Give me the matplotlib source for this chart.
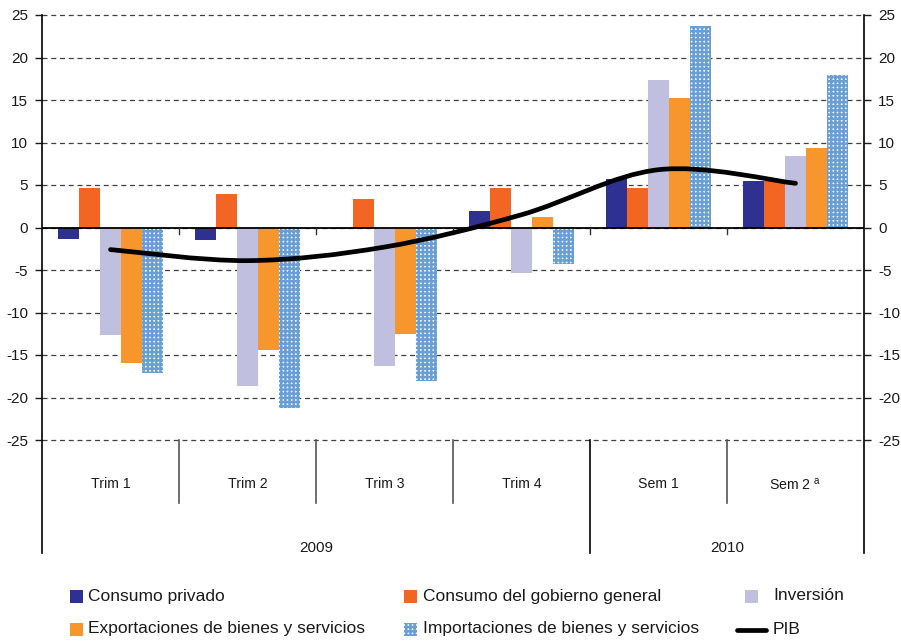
import numpy as np
import matplotlib
matplotlib.use('Agg')
from matplotlib import pyplot as plt
from matplotlib.path import Path
from matplotlib.patches import PathPatch, Rectangle
from matplotlib.lines import Line2D

plt.rcParams['font.family'] = ['Liberation Sans', 'DejaVu Sans']
plt.rcParams['mathtext.fontset'] = 'custom'
plt.rcParams['mathtext.rm'] = 'Liberation Sans'
plt.rcParams['axes.unicode_minus'] = False
plt.rcParams['hatch.linewidth'] = 1.8

# data
periods = ['Trim 1', 'Trim 2', 'Trim 3', 'Trim 4', 'Sem 1', r'Sem 2 $^{\mathrm{a}}$']
years = ['2009', '2010']
year_spans = [(0, 4), (4, 6)]
series_names = ['Consumo privado', 'Consumo del gobierno general', 'Inversión',
                'Exportaciones de bienes y servicios',
                'Importaciones de bienes y servicios']
consumo_privado = [-1.4, -1.5, -0.2, 2.0, 5.7, 5.5]
consumo_gobierno = [4.6, 3.9, 3.3, 4.7, 4.7, 5.5]
inversion = [-12.7, -18.7, -16.3, -5.4, 17.4, 8.4]
exportaciones = [-15.9, -14.4, -12.5, 1.2, 15.2, 9.4]
importaciones = [-17.1, -21.2, -18.1, -4.3, 23.7, 17.9]
pib = [-2.6, -3.9, -2.3, 1.5, 6.8, 5.2]
pib_name = 'PIB'

colors = ['#2e3192', '#f26522', '#c0bfdf', '#f7962d', '#6a9fd6']

fig = plt.figure(figsize=(9.01, 6.41), dpi=100)
ax = fig.add_axes([42 / 901, 1 - 440 / 641, (864 - 42) / 901, 425 / 641])

x = np.arange(len(periods))
w = 0.153
all_series = [consumo_privado, consumo_gobierno, inversion, exportaciones, importaciones]
for i, vals in enumerate(all_series):
    if i == 4:
        # blue grid with white dots
        ax.bar(x + (i - 2) * w, vals, w, color='white', edgecolor=colors[i],
               hatch='++++', linewidth=0, zorder=2)
    else:
        ax.bar(x + (i - 2) * w, vals, w, color=colors[i], linewidth=0, zorder=2)


def smooth_path(xs, ys):
    # catmull-rom -> cubic bezier
    pts = np.column_stack([xs, ys]).astype(float)
    ext = np.vstack([pts[0], pts, pts[-1]])
    verts = [pts[0]]
    codes = [Path.MOVETO]
    for k in range(len(pts) - 1):
        p0, p1, p2, p3 = ext[k], ext[k + 1], ext[k + 2], ext[k + 3]
        verts += [p1 + (p2 - p0) / 6, p2 - (p3 - p1) / 6, p2]
        codes += [Path.CURVE4] * 3
    return Path(verts, codes)


ax.add_patch(PathPatch(smooth_path(x, pib), facecolor='none', edgecolor='black',
                       linewidth=3.4, capstyle='round', zorder=4))

ax.set_xlim(-0.5, len(periods) - 0.5)
ax.set_ylim(-25, 25)
ax.set_yticks(np.arange(-25, 26, 5))
ax.yaxis.grid(True, linestyle=(0, (4, 3)), color='#404040', linewidth=0.9)
for gl in ax.get_ygridlines():
    gl.set_clip_on(False)
ax.set_axisbelow(True)
ax.axhline(0, color='black', linewidth=1.3, zorder=3)
ax.set_xticks([])
for s in ax.spines.values():
    s.set_visible(False)
ax.tick_params(axis='y', left=True, right=True, labelleft=True, labelright=True,
               direction='out', length=5, width=1, labelsize=11, pad=5,
               colors='#1a1a1a')

# small ticks on zero line
for b in np.arange(0.5, len(periods) - 0.5, 1):
    ax.plot([b, b], [0, -0.8], color='#333333', linewidth=1, zorder=3)

# category area below plot
y_short = -32.4
y_long = -38.3
for b in [0.5, 1.5, 2.5, 4.5]:
    ax.plot([b, b], [-25, y_short], color='#555555', linewidth=1.2, clip_on=False)
ax.plot([3.5, 3.5], [-25, y_long], color='black', linewidth=1.2, clip_on=False)
for b in [-0.5, 5.5]:
    ax.plot([b, b], [25, y_long], color='black', linewidth=1.2, clip_on=False)
for xi, lab in zip(x, periods):
    ax.text(xi, -30.2, lab, ha='center', va='center', fontsize=10.2,
            color='#1a1a1a', clip_on=False)
for (a, b), yr in zip(year_spans, years):
    ax.text((a + b - 1) / 2, -37.7, yr, ha='center', va='center', fontsize=11,
            color='#1a1a1a', clip_on=False)

# legend, laid out by hand (pixel positions)
W, H = 901.0, 641.0
leg = [
    (70, 596, 88, 0), (404, 596, 423, 1), (745, 596, 773, 2),
    (70, 629, 88, 3), (404, 629, 423, 4),
]
for mx, my, tx, i in leg:
    r = Rectangle((mx / W, 1 - (my + 6.5) / H), 13 / W, 13 / H,
                  transform=fig.transFigure, facecolor=colors[i] if i != 4 else 'white',
                  edgecolor=colors[i], hatch='++++' if i == 4 else None, linewidth=0)
    fig.add_artist(r)
    fig.text(tx / W, 1 - my / H, series_names[i], ha='left', va='center',
             fontsize=12.5, color='#1a1a1a')
fig.add_artist(Line2D([737 / W, 766 / W], [1 - 630 / H, 1 - 630 / H],
                      transform=fig.transFigure, color='black', linewidth=3.4,
                      solid_capstyle='round'))
fig.text(773 / W, 1 - 629 / H, pib_name, ha='left', va='center', fontsize=12.5,
         color='#1a1a1a')

fig.savefig('out.png', dpi=100)
